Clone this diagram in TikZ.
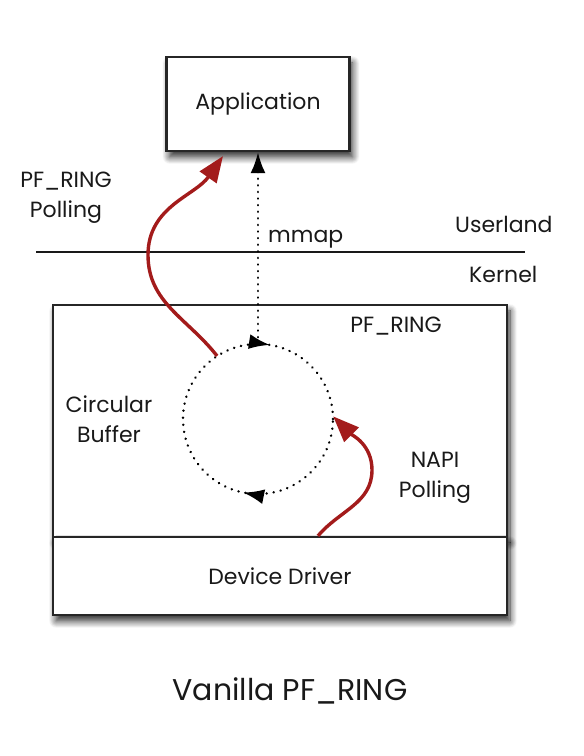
\documentclass[tikz,border=0pt]{standalone}
\usepackage{fontspec}
\setmainfont{Poppins}
\usepackage{tikz}
\usetikzlibrary{arrows.meta,calc,shadows.blur,decorations.markings}
\definecolor{pollred}{RGB}{163,27,27}
\tikzset{>=latex}
\tikzstyle{box}=[draw=black!85,line width=2.2pt,fill=white,inner sep=0pt,
    blur shadow={shadow xshift=3pt,shadow yshift=-6pt,shadow blur radius=7pt,shadow blur steps=10,shadow opacity=85}]
\tikzstyle{lbl}=[font=\fontsize{22}{30}\selectfont,text=black!90,align=center,inner sep=0pt]
\tikzstyle{polling}=[-{Triangle[length=26pt,width=20pt]},pollred,line width=3.4pt]
\tikzstyle{mmapline}=[-{Latex[length=21pt,width=15pt]},line width=2.6pt,line cap=round,dash pattern=on 0.1pt off 6.5pt]
\tikzstyle{ringline}=[line width=2.6pt,line cap=round,dash pattern=on 0.1pt off 7pt]

\begin{document}
\begin{tikzpicture}[x=1pt,y=1pt]
	
	\useasboundingbox (0,0) rectangle (584,756);
	
	% boxes
	\node[box,minimum width=183pt,minimum height=94pt,lbl] (app) at (258,652) {Application};
	\node[box,minimum width=454pt,minimum height=232pt] (ring) at (280,335) {};
	\node[box,minimum width=454pt,minimum height=78pt,lbl] (drv) at (280,180) {Device Driver};
	
	% userland / kernel border
	\coordinate (sepL) at (36,504);
	\coordinate (sepR) at (525,504);
	\draw[line width=1.8pt,black!90] (sepL) -- (sepR);
	
	% labels
	\node[lbl] (pfpoll) at (66,558) {PF\_RING\\Polling};
	\node[lbl,anchor=base west] (mmap) at (268,513) {mmap};
	\node[lbl,anchor=base west] (user) at (455,523) {Userland};
	\node[lbl,anchor=base west] (kern) at (469,473) {Kernel};
	\node[lbl,anchor=base east] (pfring) at (442,423) {PF\_RING};
	\node[lbl] (circbuf) at (109,337) {Circular\\Buffer};
	\node[lbl] (napi) at (435,278) {NAPI\\Polling};
	\node[lbl,font=\fontsize{30}{36}\selectfont,anchor=base] (caption) at (290,56) {Vanilla PF\_RING};
	
	% circular buffer
	\node[circle,minimum size=150pt,inner sep=0pt] (buf) at (258,337) {};
	\draw[ringline,postaction=decorate,
	  decoration={markings,
	    mark=at position 0.2245 with {\arrowreversed{Latex[length=21pt,width=15pt]}},
	    mark=at position 0.718 with {\arrowreversed{Latex[length=21pt,width=15pt]}}}]
	  (buf.center) circle[radius=75];
	
	% mmap
	\draw[mmapline] (buf.north) -- (app.south);
	
	% polling arrows
	\draw[polling] (buf.123) to[out=128,in=-90] (148,501) to[out=90,in=235] ($(app.south)+(-35,-4)$);
	\draw[polling] ($(drv.north)+(38,0)$) to[out=50,in=-90] (372,286) to[out=90,in=-45] (buf.2);
	
\end{tikzpicture}
\end{document}
